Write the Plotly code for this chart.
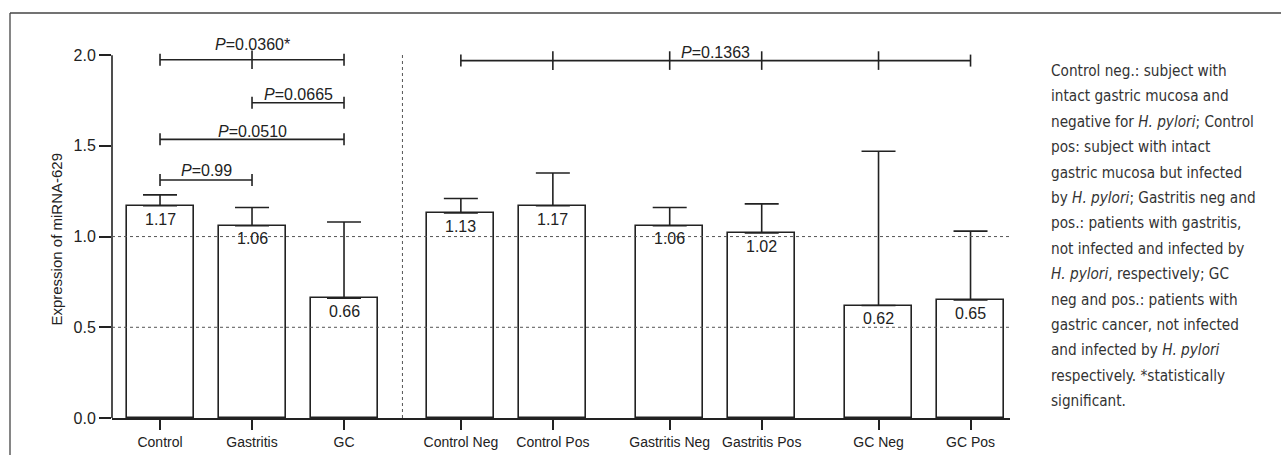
import plotly.graph_objects as go

# ---------------- data ----------------
categories = ["Control", "Gastritis", "GC", "Control Neg", "Control Pos",
              "Gastritis Neg", "Gastritis Pos", "GC Neg", "GC Pos"]
group_ids = [0, 0, 0, 1, 1, 2, 2, 3, 3]
means = [1.17, 1.06, 0.66, 1.13, 1.17, 1.06, 1.02, 0.62, 0.65]
upper_values = [1.23, 1.16, 1.08, 1.21, 1.35, 1.16, 1.18, 1.47, 1.03]
value_labels = ["1.17", "1.06", "0.66", "1.13", "1.17", "1.06", "1.02", "0.62", "0.65"]
y_ticks = [0.0, 0.5, 1.0, 1.5, 2.0]
grid_levels = [0.5, 1.0]

bracket_levels = [1.975, 1.738, 1.536, 1.312, 1.97]
bracket_members = [[0, 1, 2], [1, 2], [0, 2], [0, 1], [3, 4, 5, 6, 7, 8]]
bracket_labels = ["<i>P</i>=0.0360*", "<i>P</i>=0.0665", "<i>P</i>=0.0510",
                  "<i>P</i>=0.99", "<i>P</i>=0.1363"]

y_title = "Expression of miRNA-629"
note_lines = [
    "Control neg.: subject with",
    "intact gastric mucosa and",
    "negative for <i>H. pylori</i>; Control",
    "pos: subject with intact",
    "gastric mucosa but infected",
    "by <i>H. pylori</i>; Gastritis neg and",
    "pos.: patients with gastritis,",
    "not infected and infected by",
    "<i>H. pylori</i>, respectively; GC",
    "neg and pos.: patients with",
    "gastric cancer, not infected",
    "and infected by <i>H. pylori</i>",
    "respectively. *statistically",
    "significant.",
]

# ---------------- layout constants ----------------
W, H = 1281, 457
ML, MR, MT, MB = 112, 271, 37, 39
PW, PH = W - ML - MR, H - MT - MB
GROUP_GAP = 1.27
BAR_W = 0.728
INK = "#222222"
FONT = "Liberation Sans, Arial, sans-serif"
NOTE_FONT = "DejaVu Sans Condensed, Liberation Sans Narrow, sans-serif"


def paper_x(px):
    return (px - ML) / PW


def paper_y(py):
    return (H - MB - py) / PH


# x positions: unit step within a group, wider gap between groups
positions = []
for i, g in enumerate(group_ids):
    if i == 0:
        positions.append(0.0)
    else:
        step = 1.0 if g == group_ids[i - 1] else GROUP_GAP
        positions.append(positions[-1] + step)

sep_x = (positions[2] + positions[3]) / 2

fig = go.Figure()
fig.add_trace(go.Bar(
    x=positions, y=means, width=BAR_W,
    marker=dict(color="rgba(0,0,0,0)", line=dict(color=INK, width=1.6)),
    error_y=dict(type="data", symmetric=False,
                 array=[u - m for u, m in zip(upper_values, means)],
                 arrayminus=[0] * len(means),
                 color=INK, thickness=1.6, width=17),
    hoverinfo="skip", showlegend=False,
))

shapes = []
annotations = []

# y axis line (only up to 2.0)
shapes.append(dict(type="line", xref="paper", yref="y", x0=0, x1=0, y0=0, y1=2.0,
                   line=dict(color=INK, width=1.6)))
# dotted grid lines
for g in grid_levels:
    shapes.append(dict(type="line", xref="paper", yref="y", x0=0, x1=1, y0=g, y1=g,
                       line=dict(color="#555555", width=1, dash="dot"), layer="above"))
# vertical separator
shapes.append(dict(type="line", xref="x", yref="y", x0=sep_x, x1=sep_x, y0=0, y1=2.01,
                   line=dict(color="#555555", width=1, dash="dot"), layer="above"))

# significance brackets
px_unit = 2.1 / PH  # data units per pixel on y
label_shift = [15, 8.5, 8, 9, 8.5]
for lvl, mem, lab, sh in zip(bracket_levels, bracket_members, bracket_labels, label_shift):
    xs = [positions[m] for m in mem]
    shapes.append(dict(type="line", xref="x", yref="y", x0=xs[0], x1=xs[-1], y0=lvl, y1=lvl,
                       line=dict(color=INK, width=1.6)))
    for k, xv in enumerate(xs):
        half = 6 if k in (0, len(xs) - 1) else 9.3
        shapes.append(dict(type="line", xref="x", yref="y", x0=xv, x1=xv,
                           y0=lvl - half * px_unit, y1=lvl + half * px_unit,
                           line=dict(color=INK, width=1.6)))
    annotations.append(dict(x=(xs[0] + xs[-1]) / 2, y=lvl, xref="x", yref="y", text=lab,
                            showarrow=False, yanchor="middle", yshift=sh,
                            font=dict(family=FONT, size=16, color=INK)))

# value labels inside bars
for xv, m, lab in zip(positions, means, value_labels):
    annotations.append(dict(x=xv, y=m, xref="x", yref="y", text=lab, showarrow=False,
                            yanchor="middle", yshift=-13.3,
                            font=dict(family=FONT, size=16, color=INK)))

# y axis title
annotations.append(dict(x=paper_x(57), y=1.0, xref="paper", yref="y", text=y_title,
                        textangle=-90, showarrow=False, xanchor="center", yanchor="middle",
                        yshift=-3, font=dict(family=FONT, size=15, color=INK)))

# side note
for i, line in enumerate(note_lines):
    annotations.append(dict(x=paper_x(1049), y=paper_y(71 + 25.4 * i), xref="paper", yref="paper",
                            text=line, showarrow=False, xanchor="left", yanchor="middle",
                            font=dict(family=NOTE_FONT, size=15.2, color="#333333")))

# outer frame (top and left only)
shapes.append(dict(type="line", xref="paper", yref="paper", x0=paper_x(10), x1=paper_x(1281),
                   y0=paper_y(13), y1=paper_y(13), line=dict(color="#444444", width=1.3)))
shapes.append(dict(type="line", xref="paper", yref="paper", x0=paper_x(10), x1=paper_x(10),
                   y0=paper_y(13), y1=paper_y(455), line=dict(color="#444444", width=1.3)))

fig.update_layout(
    width=W, height=H,
    margin=dict(l=ML, r=MR, t=MT, b=MB, autoexpand=False),
    paper_bgcolor="white", plot_bgcolor="white",
    shapes=shapes, annotations=annotations,
    xaxis=dict(range=[-0.522, 9.239], tickvals=positions, ticktext=categories,
               showline=True, linecolor=INK, linewidth=1.6,
               ticks="outside", ticklen=10, tickwidth=1.6, tickcolor=INK,
               showgrid=False, zeroline=False,
               tickfont=dict(family=FONT, size=14, color=INK)),
    yaxis=dict(range=[0, 2.1], tickvals=y_ticks, tickformat=".1f",
               showline=False, ticks="outside", ticklen=12, tickwidth=1.6, tickcolor=INK,
               showgrid=False, zeroline=False,
               tickfont=dict(family=FONT, size=16, color=INK)),
    bargap=0,
)

fig.write_html("out.html", config={"displayModeBar": False},
               post_script="document.body.style.margin='0';document.body.style.overflow='hidden';")
